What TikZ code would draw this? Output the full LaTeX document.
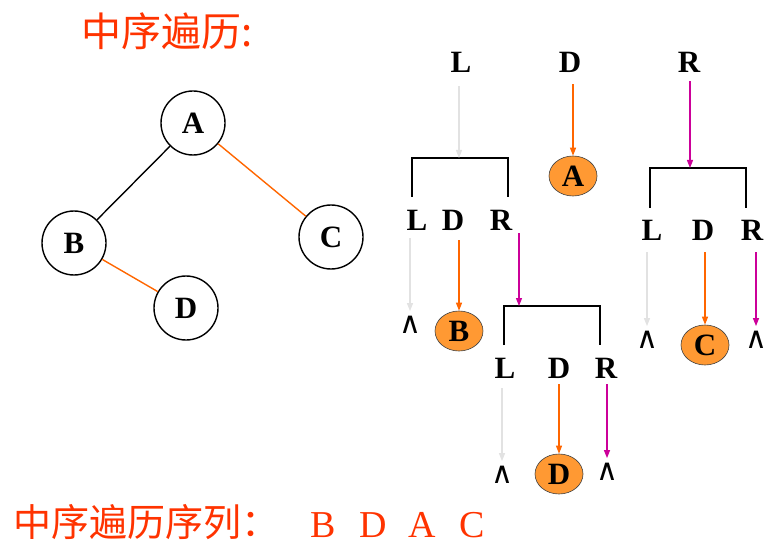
\documentclass[tikz,border=0pt]{standalone}
\usepackage{fontspec}
\setmainfont{Liberation Serif}
\newfontfamily\cjk{Noto Sans CJK SC}
\newfontfamily\dejavu{DejaVu Sans}
\usetikzlibrary{shapes.geometric,arrows.meta}
\definecolor{titlered}{HTML}{FF3300}
\definecolor{orng}{HTML}{FF6600}
\definecolor{magen}{HTML}{CC0099}
\definecolor{lgray}{HTML}{E2E2E2}
\definecolor{ovalfill}{HTML}{FF9933}
\tikzset{
  circ/.style={circle, draw, line width=1.4pt, minimum size=64pt, inner sep=0pt,
    font=\fontsize{31}{31}\selectfont\bfseries},
  lab/.style={inner sep=0pt, font=\fontsize{31}{31}\selectfont\bfseries},
  oval/.style={ellipse, draw=black!75, fill=ovalfill, line width=0.6pt,
    minimum width=48pt, minimum height=40pt, inner sep=0pt,
    font=\fontsize{31}{31}\selectfont\bfseries},
  nil/.style={inner sep=0pt, font=\dejavu\fontsize{30}{30}\selectfont},
  brk/.style={line width=1.5pt},
  tip/.style={-{Triangle[width=6pt,length=8pt]}, line width=1.2pt},
  garr/.style={tip, draw=lgray},
  oarr/.style={tip, draw=orng},
  marr/.style={tip, draw=magen},
  edge/.style={line width=1.4pt}
}
\begin{document}
\begin{tikzpicture}[x=1pt,y=-1pt]
\useasboundingbox (0,0) rectangle (781,553);
% title
\node[anchor=west, inner sep=0pt, text=titlered, font=\cjk\fontsize{40}{40}\selectfont] (title) at (81,31) {中序遍历:};
% tree
\node[circ] (A) at (193,123) {A};
\node[circ] (B) at (74,243) {B};
\node[circ] (C) at (331,237) {C};
\node[circ] (D) at (186,308) {D};
\draw[edge] (A) -- (B);
\draw[edge, orng] (A) -- (C);
\draw[edge, orng] (B) -- (D);
% top level
\node[lab] (L1) at (461,62) {L};
\node[lab] (D1) at (570,62) {D};
\node[lab] (R1) at (689,62) {R};
\node[oval] (nA) at (573,176) {A};
\coordinate (b1) at (459,158);
\coordinate (b2) at (690,168);
\draw[brk] (412,197) -- (412,158) -- (508,158) -- (508,197);
\draw[brk] (650,208) -- (650,168) -- (746,168) -- (746,208);
\draw[garr, shorten <=14pt] (b1 |- L1.south) -- (b1);
\draw[oarr, shorten <=12pt] (nA |- D1.south) -- (nA.north);
\draw[marr, shorten <=9pt] (b2 |- R1.south) -- (b2);
% left subtree level
\node[lab] (L2) at (417,220) {L};
\node[lab] (D2) at (453,220) {D};
\node[lab] (R2) at (501,220) {R};
\node[nil] (n1) at (410,325) {∧};
\node[oval] (nB) at (459,331) {B};
\coordinate (b3) at (519,306);
\draw[brk] (504,345) -- (504,306) -- (600,306) -- (600,345);
\draw[garr, shorten <=8pt, shorten >=5pt] (n1 |- L2.south) -- (n1.north);
\draw[oarr, shorten <=10pt] (nB |- D2.south) -- (nB.north);
\draw[marr, shorten <=3pt] (b3 |- R2.south) -- (b3);
% bottom level
\node[lab] (L3) at (505,368) {L};
\node[lab] (D3) at (559,368) {D};
\node[lab] (R3) at (606,368) {R};
\node[nil] (n2) at (502,475) {∧};
\node[oval] (nD) at (559,474) {D};
\node[nil] (n3) at (607,472) {∧};
\draw[garr, shorten <=10pt, shorten >=5pt] (n2 |- L3.south) -- (n2.north);
\draw[oarr, shorten <=6pt] (nD |- D3.south) -- (nD.north);
\draw[marr, shorten <=6pt, shorten >=5pt] (n3 |- R3.south) -- (n3.north);
% right subtree level
\node[lab] (L4) at (652,230) {L};
\node[lab] (D4) at (703,230) {D};
\node[lab] (R4) at (752,230) {R};
\node[nil] (n4) at (647,340) {∧};
\node[oval] (nC) at (705,345) {C};
\node[nil] (n5) at (756,340) {∧};
\draw[garr, shorten <=12pt, shorten >=5pt] (n4 |- L4.south) -- (n4.north);
\draw[oarr, shorten <=12pt] (nC |- D4.south) -- (nC.north);
\draw[marr, shorten <=12pt, shorten >=5pt] (n5 |- R4.south) -- (n5.north);
% bottom sequence
\node[anchor=west, inner sep=0pt, text=titlered, font=\cjk\fontsize{38}{38}\selectfont] (seq) at (13,522) {中序遍历序列：};
\node[anchor=base, inner sep=0pt, text=titlered, font=\fontsize{38}{38}\selectfont] (sB) at (323,537) {B};
\node[anchor=base, inner sep=0pt, text=titlered, font=\fontsize{38}{38}\selectfont] (sD) at (373,537) {D};
\node[anchor=base, inner sep=0pt, text=titlered, font=\fontsize{38}{38}\selectfont] (sA) at (422,537) {A};
\node[anchor=base, inner sep=0pt, text=titlered, font=\fontsize{38}{38}\selectfont] (sC) at (472,537) {C};
\end{tikzpicture}
\end{document}
